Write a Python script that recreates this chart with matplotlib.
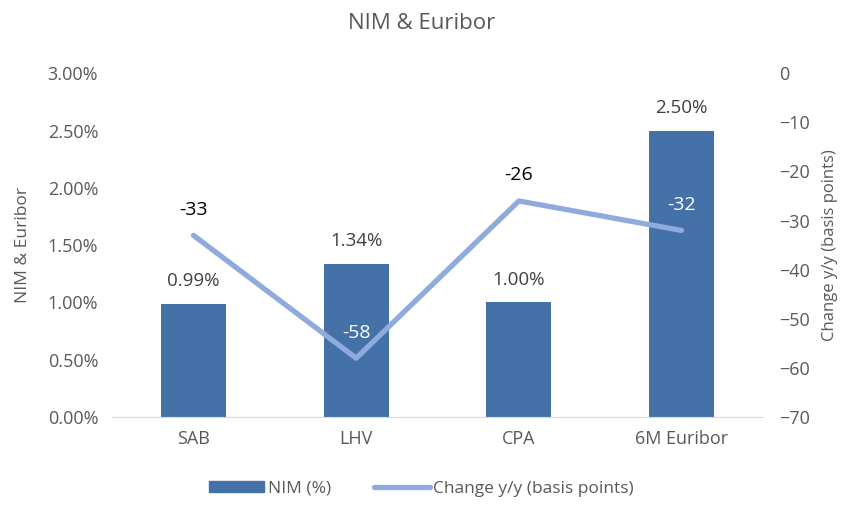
import matplotlib
matplotlib.use("Agg")
from matplotlib import pyplot as plt
from matplotlib.ticker import FuncFormatter
from matplotlib.patches import Patch
from matplotlib.lines import Line2D

plt.rcParams['font.family'] = ['Open Sans', 'DejaVu Sans']

categories = ["SAB", "LHV", "CPA", "6M Euribor"]
nim = [0.99, 1.34, 1.00, 2.50]
change_bp = [-33, -58, -26, -32]
line_label_colors = ["black", "white", "black", "white"]

bar_color = "#4472A8"
line_color = "#8FAADC"
text_gray = "#595959"

fig = plt.figure(figsize=(8.43, 5.05), dpi=100)
ax = fig.add_axes([0.133, 0.174, 0.772, 0.681])
x = list(range(len(categories)))

ax.bar(x, nim, width=0.4, color=bar_color, zorder=2)
for xi, v in zip(x, nim):
    ax.annotate("{:.2f}%".format(v), (xi, v), xytext=(0, 10), textcoords="offset points",
                ha="center", va="bottom", fontsize=13.5, color="#404040")

ax.set_xlim(-0.5, 3.5)
ax.set_ylim(0, 3.0)
ax.set_yticks([0, 0.5, 1.0, 1.5, 2.0, 2.5, 3.0])
ax.yaxis.set_major_formatter(FuncFormatter(lambda v, p: "{:.2f}%".format(v)))
ax.set_xticks(x)
ax.set_xticklabels(categories)
ax.set_ylabel("NIM & Euribor", fontsize=12.5, color=text_gray, labelpad=12)
ax.tick_params(length=0, labelsize=13, labelcolor=text_gray)
ax.tick_params(axis="x", pad=9)
ax.tick_params(axis="y", pad=10)
for s in ["top", "right", "left"]:
    ax.spines[s].set_visible(False)
ax.spines["bottom"].set_color("#D9D9D9")

ax2 = ax.twinx()
ax2.plot(x, change_bp, color=line_color, linewidth=3.8, solid_capstyle="round", zorder=3)
for xi, v, c in zip(x, change_bp, line_label_colors):
    ax2.annotate(str(v), (xi, v), xytext=(0, 12), textcoords="offset points",
                 ha="center", va="bottom", fontsize=14, color=c)
ax2.set_ylim(-70, 0)
ax2.set_yticks(range(-70, 1, 10))
ax2.set_ylabel("Change y/y (basis points)", fontsize=12, color=text_gray, labelpad=8)
ax2.tick_params(length=0, labelsize=13, labelcolor=text_gray, pad=12)
for s in ax2.spines.values():
    s.set_visible(False)

fig.suptitle("NIM & Euribor", y=0.975, fontsize=16, color=text_gray)

handles = [Patch(color=bar_color), Line2D([], [], color=line_color, linewidth=3.8, solid_capstyle="round")]
labels = ["NIM (%)", "Change y/y (basis points)"]
fig.legend(handles, labels, loc="lower center", bbox_to_anchor=(0.5, -0.015), ncol=2, frameon=False,
           fontsize=12.5, labelcolor=text_gray, handlelength=3.2, handleheight=0.6,
           handletextpad=0.2, columnspacing=2.5)

fig.savefig("out.png", dpi=100)
